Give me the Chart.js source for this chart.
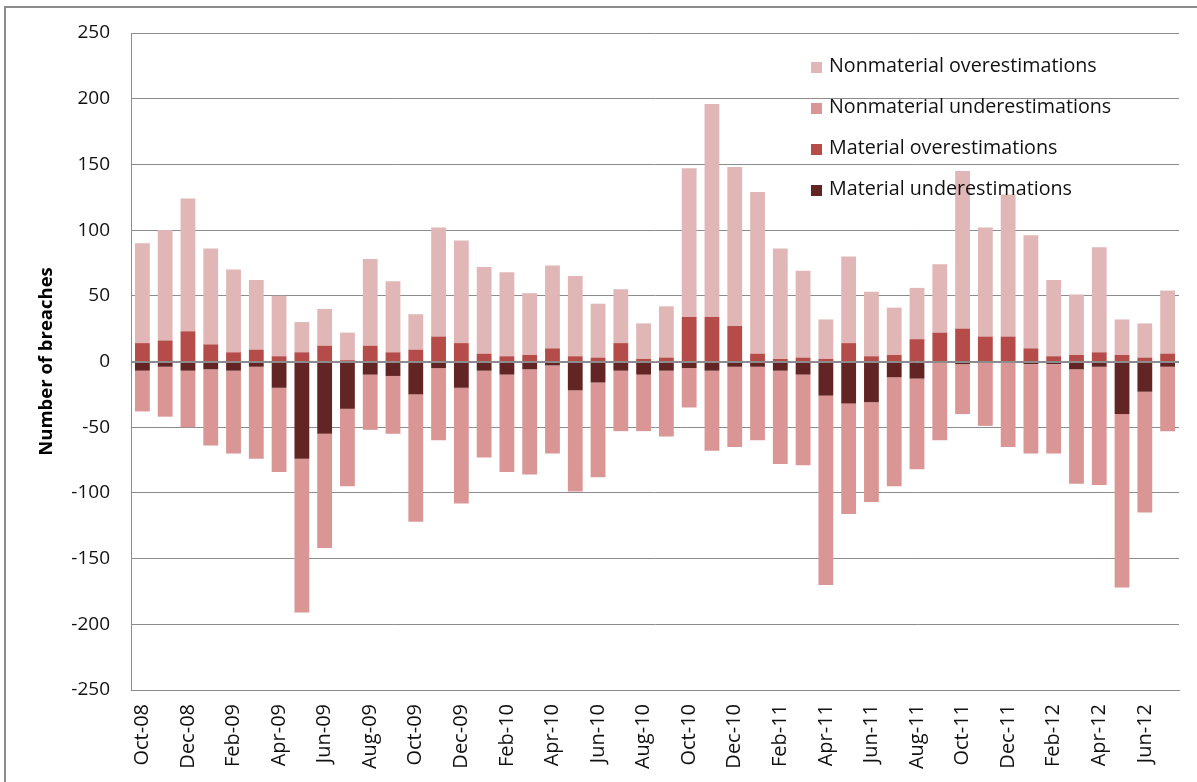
<!DOCTYPE html>
<html>
<head>
<meta charset="utf-8">
<script src="https://cdn.jsdelivr.net/npm/chart.js@4"></script>
<style>
  body { margin: 0; background: #fff; }
  #wrap { position: relative; width: 1197px; height: 782px; overflow: hidden; }
  #frame { position: absolute; left: 4px; top: 6px; width: 1300px; height: 900px;
           border-left: 2px solid #8c8c8c; border-top: 2px solid #8c8c8c; }
  #breachChart { position: absolute; left: 0; top: 0; }
  #legend { position: absolute; left: 811px; top: 0; font-family: 'Open Sans', sans-serif;
            font-size: 19.7px; color: #111; }
  .item { position: absolute; left: 0; white-space: nowrap; height: 26px; line-height: 26px; }
  .item span { display: inline-block; width: 11px; height: 11px; margin-right: 7px; vertical-align: -1px; }
</style>
</head>
<body>
<div id="wrap">
  <div id="frame"></div>
  <canvas id="breachChart" width="1197" height="782"></canvas>
  <div id="legend"></div>
</div>
<script>
const months = [
    'Oct-08', 'Nov-08', 'Dec-08',
    'Jan-09', 'Feb-09', 'Mar-09', 'Apr-09', 'May-09', 'Jun-09', 'Jul-09', 'Aug-09', 'Sep-09', 'Oct-09', 'Nov-09', 'Dec-09',
    'Jan-10', 'Feb-10', 'Mar-10', 'Apr-10', 'May-10', 'Jun-10', 'Jul-10', 'Aug-10', 'Sep-10', 'Oct-10', 'Nov-10', 'Dec-10',
    'Jan-11', 'Feb-11', 'Mar-11', 'Apr-11', 'May-11', 'Jun-11', 'Jul-11', 'Aug-11', 'Sep-11', 'Oct-11', 'Nov-11', 'Dec-11',
    'Jan-12', 'Feb-12', 'Mar-12', 'Apr-12', 'May-12', 'Jun-12', 'Jul-12'
];

const materialUnder = [-7, -4, -7, -6, -7, -4, -20, -74, -55, -36, -10, -11, -25, -5, -20, -7, -10, -6, -3, -22, -16, -7, -10,
    -7, -5, -7, -4, -4, -7, -10, -26, -32, -31, -12, -13, -1, -2, -1, -1, -2, -2, -6, -4, -40, -23, -4];
const materialOver = [14, 16, 23, 13, 7, 9, 4, 7, 12, 1, 12, 7, 9, 19, 14, 6, 4, 5, 10, 4, 3, 14, 2,
    3, 34, 34, 27, 6, 2, 3, 2, 14, 4, 5, 17, 22, 25, 19, 19, 10, 4, 5, 7, 5, 3, 6];
const nonmaterialUnder = [-31, -38, -43, -58, -63, -70, -64, -117, -87, -59, -42, -44, -97, -55, -88, -66, -74, -80, -67, -77, -72, -46, -43,
    -50, -30, -61, -61, -56, -71, -69, -144, -84, -76, -83, -69, -59, -38, -48, -64, -68, -68, -87, -90, -132, -92, -49];
const nonmaterialOver = [76, 84, 101, 73, 63, 53, 46, 23, 28, 21, 66, 54, 27, 83, 78, 66, 64, 47, 63, 61, 41, 41, 27,
    39, 113, 162, 121, 123, 84, 66, 30, 66, 49, 36, 39, 52, 120, 83, 108, 86, 58, 46, 80, 27, 26, 48];

const GRID = '#8c8c8c';
Chart.defaults.font.family = "'Open Sans', sans-serif";
Chart.defaults.font.size = 19;
Chart.defaults.color = '#111';

// the category axis crosses at 0 and is drawn over the bars
const zeroLine = {
    id: 'zeroLine',
    afterDatasetsDraw(chart) {
        const ctx = chart.ctx;
        const y = Math.round(chart.scales.y.getPixelForValue(0)) + 0.5;
        ctx.save();
        ctx.strokeStyle = GRID;
        ctx.lineWidth = 1;
        ctx.beginPath();
        ctx.moveTo(chart.chartArea.left, y);
        ctx.lineTo(chart.chartArea.right, y);
        ctx.stroke();
        ctx.restore();
    }
};

const chart = new Chart(document.getElementById('breachChart'), {
    type: 'bar',
    data: {
        labels: months,
        datasets: [{
            label: 'Material underestimations',
            data: materialUnder,
            backgroundColor: '#632523'
        }, {
            label: 'Material overestimations',
            data: materialOver,
            backgroundColor: '#b64c49'
        }, {
            label: 'Nonmaterial underestimations',
            data: nonmaterialUnder,
            backgroundColor: '#da9694'
        }, {
            label: 'Nonmaterial overestimations',
            data: nonmaterialOver,
            backgroundColor: '#e0b7b6'
        }]
    },
    options: {
        responsive: false,
        animation: false,
        layout: { padding: { top: 33, right: 18, left: 0, bottom: 0 } },
        datasets: { bar: { categoryPercentage: 1, barPercentage: 0.65 } },
        plugins: { legend: { display: false }, tooltip: { enabled: false } },
        scales: {
            x: {
                stacked: true,
                grid: { display: false, drawTicks: false },
                border: { display: true, color: GRID, width: 1 },
                ticks: {
                    autoSkip: false,
                    minRotation: 90,
                    maxRotation: 90,
                    padding: 14,
                    font: { size: 20 },
                    callback: (value, index) => index % 2 === 0 ? months[index] : ''
                },
                afterFit: (scale) => {
                    scale.height = 92;
                    scale.paddingLeft = 0;
                    scale.paddingRight = 0;
                }
            },
            y: {
                stacked: true,
                min: -250,
                max: 250,
                grid: { color: GRID, drawTicks: false },
                border: { display: true, color: GRID, width: 1 },
                ticks: { stepSize: 50, padding: 21 },
                title: {
                    display: true,
                    text: 'Number of breaches',
                    font: { size: 18.5, weight: 'bold' },
                    color: '#000',
                    padding: { top: 36, bottom: 0 }
                },
                afterFit: (scale) => { scale.width = 131; }
            }
        }
    },
    plugins: [zeroLine]
});

// legend inside the plot, top series first
const legend = document.getElementById('legend');
const rowCentres = [65, 106, 147, 188];
chart.data.datasets.slice().reverse().forEach((ds, i) => {
    const item = document.createElement('div');
    item.className = 'item';
    item.style.top = (rowCentres[i] - 13) + 'px';
    const sw = document.createElement('span');
    sw.style.background = ds.backgroundColor;
    item.appendChild(sw);
    item.appendChild(document.createTextNode(ds.label));
    legend.appendChild(item);
});
</script>
</body>
</html>
